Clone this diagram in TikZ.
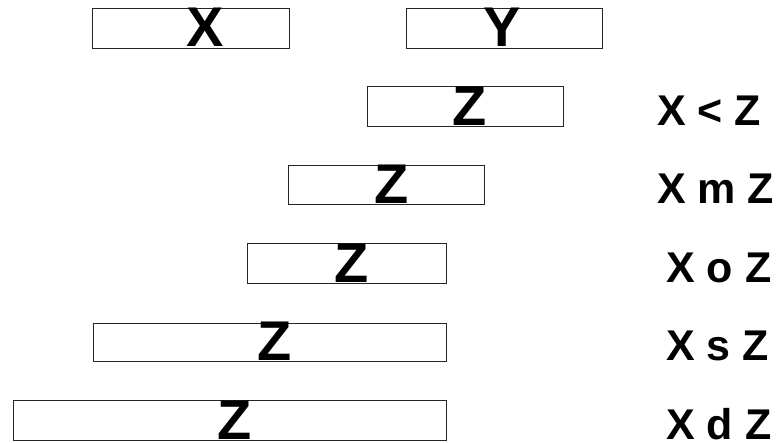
\documentclass[tikz,border=0pt]{standalone}
\usepackage{fontspec}
\setmainfont{Liberation Sans}
\begin{document}
\begin{tikzpicture}[x=1pt,y=1pt,
  bar/.style={draw=black!85,line width=0.9pt,fill=white},
  barletter/.style={anchor=base,inner sep=0pt,font=\fontsize{56}{56}\selectfont\bfseries},
  rel/.style={anchor=base west,inner sep=0pt,font=\fontsize{43}{43}\selectfont\bfseries}]
\useasboundingbox (0,0) rectangle (782,443);
% X and Y
\draw[bar] (92,435) rectangle (289,395);
\node[barletter] (lx) at (205,396) {X};
\draw[bar] (406,435) rectangle (602,395);
\node[barletter] (ly) at (502,396) {Y};
% row 1: X < Z
\draw[bar] (367,357) rectangle (563,317);
\node[barletter] (z1) at (470,317) {Z};
\node[rel] (r1) at (657,317) {X < Z};
% row 2: X m Z
\draw[bar] (288,278) rectangle (484,239);
\node[barletter] (z2) at (392,239) {Z};
\node[rel] (r2) at (657,239) {X m Z};
% row 3: X o Z
\draw[bar] (247,200) rectangle (446,160);
\node[barletter] (z3) at (352,160) {Z};
\node[rel] (r3) at (666,160) {X o Z};
% row 4: X s Z
\draw[bar] (93,120) rectangle (446,82);
\node[barletter] (z4) at (275,82) {Z};
\node[rel] (r4) at (666,82) {X s Z};
% row 5: X d Z
\draw[bar] (13,43) rectangle (446,3);
\node[barletter] (z5) at (235,3) {Z};
\node[rel] (r5) at (666,3) {X d Z};
\end{tikzpicture}
\end{document}
